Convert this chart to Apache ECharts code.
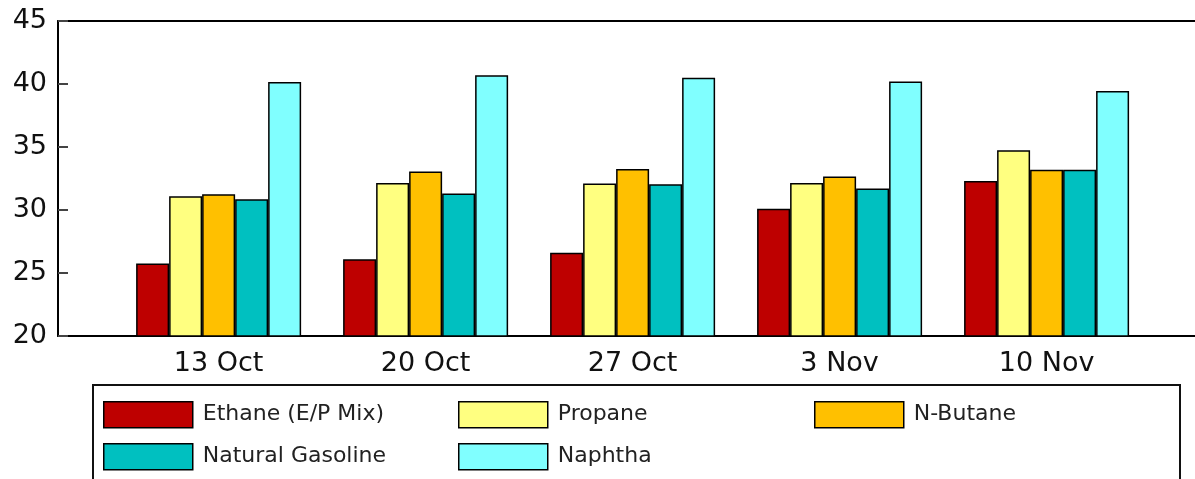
<!DOCTYPE html>
<html>
<head>
<meta charset="utf-8">
<script src="https://cdn.jsdelivr.net/npm/echarts@6/dist/echarts.min.js"></script>
<style>
html,body{margin:0;padding:0;background:#fff;}
#chart{width:1195px;height:479px;}
</style>
</head>
<body>
<div id="chart"></div>
<script>
const categories = ['13 Oct', '20 Oct', '27 Oct', '3 Nov', '10 Nov'];
const seriesNames = ['Ethane (E/P Mix)', 'Propane', 'N-Butane', 'Natural Gasoline', 'Naphtha'];
const ethane = [25.75, 26.1, 26.6, 30.1, 32.3];
const propane = [31.1, 32.15, 32.1, 32.15, 34.75];
const nButane = [31.25, 33.05, 33.25, 32.65, 33.2];
const natGasoline = [30.85, 31.3, 32.05, 31.7, 33.2];
const naphtha = [40.15, 40.7, 40.5, 40.2, 39.45];
const yTicks = [20, 25, 30, 35, 40, 45];

const colors = ['#BE0000', '#FFFF80', '#FFC000', '#00C0C0', '#80FFFF'];
const seriesData = [ethane, propane, nButane, natGasoline, naphtha];

const chart = echarts.init(document.getElementById('chart'));
const FONT = 'DejaVu Sans';
const xMin = -0.776, xMax = 4.717;

const series = seriesNames.map((name, s) => ({
  name: name,
  type: 'bar',
  barWidth: 33,
  barGap: '0%',
  clip: true,
  data: seriesData[s].map((v, i) => [i, v]),
  itemStyle: { color: colors[s], borderColor: '#000', borderWidth: 1.5 },
  emphasis: { disabled: true }
}));

const legendPos = [[103, 401], [458, 401], [814, 401], [103, 443], [458, 443]];
const legends = seriesNames.map((name, s) => ({
  data: [name],
  left: legendPos[s][0] - 5,
  top: legendPos[s][1] - 5,
  orient: 'horizontal',
  itemWidth: 89,
  itemHeight: 26,
  icon: 'rect',
  selectedMode: false,
  itemStyle: { borderColor: '#000', borderWidth: 1.5 },
  textStyle: { fontFamily: FONT, fontSize: 22, color: '#222', padding: [0, 0, 0, 5] }
}));

chart.setOption({
  animation: false,
  backgroundColor: '#fff',
  grid: { left: 58, right: 0, top: 21, bottom: 143, containLabel: false },
  xAxis: [{
    type: 'value',
    min: xMin, max: xMax,
    splitLine: { show: false },
    axisLine: { show: true, lineStyle: { color: '#000', width: 2 } },
    axisTick: { show: false },
    axisLabel: {
      customValues: categories.map((c, i) => i),
      formatter: v => categories[Math.round(v)] || '',
      fontFamily: FONT, fontSize: 27, color: '#111', margin: 14,
      showMinLabel: true, showMaxLabel: true
    }
  }, {
    type: 'value',
    position: 'top',
    min: xMin, max: xMax,
    splitLine: { show: false },
    axisLine: { show: true, lineStyle: { color: '#000', width: 2 } },
    axisTick: { show: false },
    axisLabel: { show: false }
  }],
  yAxis: {
    type: 'value',
    min: 20, max: 45, interval: 5,
    splitLine: { show: false },
    axisLine: { show: true, onZero: false, lineStyle: { color: '#000', width: 2 } },
    axisTick: { show: true, inside: true, length: 10, lineStyle: { color: '#444', width: 2 } },
    axisLabel: {
      fontFamily: FONT, fontSize: 27, color: '#111', margin: 11,
      formatter: v => String(v)
    }
  },
  legend: legends,
  graphic: [{
    type: 'rect',
    shape: { x: 93, y: 385, width: 1087, height: 140 },
    style: { fill: 'none', stroke: '#111', lineWidth: 2 },
    silent: true
  }],
  series: series
});
</script>
</body>
</html>
